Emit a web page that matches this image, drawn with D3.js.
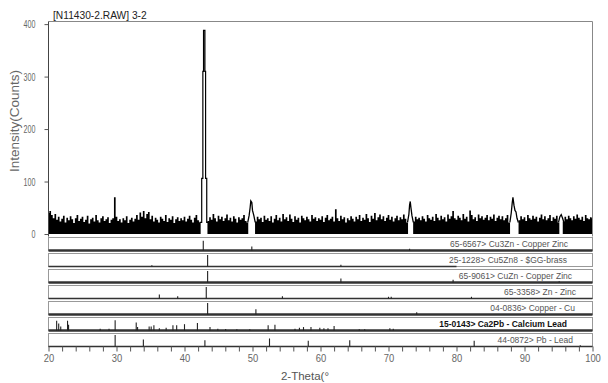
<!DOCTYPE html>
<html>
<head>
<meta charset="utf-8">
<script src="https://cdn.jsdelivr.net/npm/d3@7"></script>
<style>
  body { margin: 0; background: #fff; }
  text { font-family: "Liberation Sans", Arial, sans-serif; }
</style>
</head>
<body>
<svg id="chart" width="608" height="383"></svg>
<script>
// ---- data ----
const scanTitle = '[N11430-2.RAW] 3-2';
const scanStart = 20, scanStep = 0.25;
// top of the noisy background per 0.25 deg column (counts), 20.00 .. 100.00
const noise = [
  40, 44, 36, 30, 38, 27, 33, 24, 29, 35, 22, 31, 26, 34, 28, 21, 30, 36, 25, 29,
  33, 23, 27, 35, 20, 28, 31, 24, 36, 26, 22, 30, 34, 25, 28, 32, 21, 27, 30, 70,
  33, 25, 28, 22, 30, 26, 34, 21, 27, 31, 24, 29, 36, 27, 41, 33, 44, 30, 38, 42,
  28, 35, 24, 31, 27, 22, 33, 29, 25, 36, 23, 30, 27, 34, 21, 28, 32, 25, 30, 26,
  33, 24, 29, 35, 27, 22, 31, 36, 26, 22, 0, 0, 0, 0, 25, 32, 27, 38, 30, 24,
  35, 28, 33, 25, 30, 37, 26, 31, 24, 34, 29, 22, 32, 27, 30, 36, 25, 22, 0, 0,
  0, 0, 24, 33, 28, 31, 23, 35, 27, 30, 25, 34, 22, 29, 36, 26, 31, 24, 38, 28,
  32, 25, 37, 29, 23, 34, 27, 31, 22, 35, 30, 26, 33, 28, 24, 36, 29, 32, 25, 30,
  27, 34, 23, 31, 36, 26, 29, 33, 24, 47, 30, 25, 35, 28, 32, 22, 30, 26, 34, 29,
  24, 33, 28, 36, 25, 31, 27, 38, 30, 23, 35, 29, 40, 26, 32, 37, 28, 34, 25, 31,
  36, 27, 33, 24, 30, 35, 26, 32, 28, 37, 29, 22, 0, 0, 0, 24, 33, 28, 31, 26,
  34, 29, 24, 36, 30, 27, 33, 25, 38, 31, 26, 35, 28, 32, 24, 37, 29, 34, 44, 30,
  27, 35, 31, 26, 38, 29, 33, 24, 45, 36, 28, 32, 25, 37, 30, 34, 27, 31, 36, 26,
  33, 29, 37, 25, 31, 35, 28, 34, 26, 30, 36, 22, 0, 0, 0, 0, 0, 26, 34, 28,
  32, 25, 36, 30, 27, 35, 29, 33, 24, 31, 37, 28, 34, 26, 30, 36, 25, 32, 29, 35,
  22, 0, 0, 24, 33, 28, 35, 30, 26, 34, 29, 37, 31, 27, 33, 25, 36, 30, 28, 32,
  30
];
// reflections [2theta, counts]
const peak43 = [[42.2, 22], [42.53, 106], [42.7, 310], [42.8, 388], [43.0, 310], [43.1, 106], [43.27, 22], [43.5, 22]];
const peak50 = [[49.3, 22], [49.5, 35], [49.65, 50], [49.75, 63], [49.9, 60], [50.0, 45], [50.2, 35], [50.4, 22]];
const peak73 = [[72.8, 22], [73.0, 38], [73.1, 55], [73.2, 62], [73.3, 50], [73.45, 35], [73.65, 22]];
const peak88 = [[87.85, 22], [88.05, 40], [88.2, 60], [88.3, 70], [88.45, 55], [88.6, 45], [88.75, 42], [88.9, 30], [89.1, 22]];
const peak95 = [[95.0, 22], [95.2, 33], [95.4, 37], [95.6, 30], [95.8, 22]];

const yTicks = [0, 100, 200, 300, 400];
const xTicks = [20, 30, 40, 50, 60, 70, 80, 90, 100];

// reference cards
const cardNames = [
  '65-6567> Cu3Zn - Copper Zinc',
  '25-1228> Cu5Zn8 - $GG-brass',
  '65-9061> CuZn - Copper Zinc',
  '65-3358> Zn - Zinc',
  '04-0836> Copper - Cu',
  '15-0143> Ca2Pb - Calcium Lead',
  '44-0872> Pb - Lead'
];
const cardEnd = [100, 80, 100, 100, 100, 100, 100];
const stCu3Zn = [[42.76, 0.85], [49.9, 0.35], [73.1, 0.15]];
const stCu5Zn8 = [[35.2, 0.1], [43.4, 1.0], [63.0, 0.15]];
const stCuZn = [[43.4, 1.0], [63.0, 0.35], [79.5, 0.25], [95.1, 0.1]];
const stZn = [[36.3, 0.35], [39.0, 0.2], [43.2, 1.0], [54.4, 0.2], [70.0, 0.15], [70.4, 0.15], [82.2, 0.15]];
const stCu = [[43.4, 1.0], [50.5, 0.45], [74.15, 0.2]];
const stCa2Pb = [
  [21.2, 0.85], [21.5, 0.6], [21.8, 0.35], [22.8, 0.85], [22.95, 0.5], [27.6, 0.15], [28.9, 0.15],
  [29.8, 0.9], [32.9, 0.7], [33.1, 0.3], [34.8, 0.35], [35.1, 0.35], [35.5, 0.45], [36.3, 0.2],
  [37.3, 0.25], [38.3, 0.45], [38.85, 0.45], [40.0, 0.55], [41.9, 0.65], [43.75, 0.3], [44.9, 0.15],
  [46.05, 0.12], [47.7, 0.1], [49.6, 0.1], [52.3, 0.45], [53.3, 0.5], [56.25, 0.15], [56.9, 0.25],
  [57.5, 0.3], [58.6, 0.3], [59.9, 0.25], [60.5, 0.2], [61.1, 0.2], [62.0, 0.4], [65.7, 0.1],
  [66.5, 0.1], [70.2, 0.2], [70.7, 0.15]
];
const stPb = [[29.8, 1.0], [33.95, 0.6], [43.0, 0.55], [52.5, 0.7], [58.2, 0.5], [64.3, 0.55], [82.6, 0.5], [98.2, 0.1]];
const cardSticks = [stCu3Zn, stCu5Zn8, stCuZn, stZn, stCu, stCa2Pb, stPb];

// ---- layout ----
const svg = d3.select('#chart');
const x = d3.scaleLinear().domain([20, 100]).range([48.5, 592.5]);
const y = d3.scaleLinear().domain([0, 405]).range([234, 21.5]);
const plotTop = 21.5, plotBot = 236.5;
const panelTop = 237.5, panelPitch = 16, panelH = 13;
const baseW = [2.6, 1.6, 2.6, 1.3, 2.6, 2.6, 1.5];
const labelEnd = [568, 567, 572, 576, 575, 567, 573];

svg.append('clipPath').attr('id', 'clip')
  .append('rect').attr('x', x(20)).attr('y', plotTop).attr('width', x(100) - x(20)).attr('height', plotBot - plotTop);

const plot = svg.append('g').attr('clip-path', 'url(#clip)');

// noisy background, drawn as one solid stepped area
const noiseArea = d3.area()
  .x((d, i) => x(scanStart + i * scanStep))
  .y0(y(0))
  .y1(d => y(d))
  .curve(d3.curveStep);
plot.append('path').datum(noise)
  .attr('d', noiseArea)
  .attr('fill', '#000');

// reflections
const stepLine = d3.line().x(d => x(d[0])).y(d => y(d[1])).curve(d3.curveStepAfter);
const peakLine = d3.line().x(d => x(d[0])).y(d => y(d[1]));
plot.append('path').attr('d', stepLine(peak43))
  .attr('fill', 'none').attr('stroke', '#000').attr('stroke-width', 1.2);
[peak50, peak73, peak88, peak95].forEach(p => {
  plot.append('path').attr('d', peakLine(p))
    .attr('fill', 'none').attr('stroke', '#000').attr('stroke-width', 1.3);
});

// frame
svg.append('path')
  .attr('d', `M${x(20)},${plotTop}H${x(100)}V${plotBot}`)
  .attr('fill', 'none').attr('stroke', '#888');

const yAxis = svg.append('g')
  .attr('transform', `translate(${x(20)},0)`)
  .call(d3.axisLeft(y).tickValues(yTicks).tickSize(4).tickSizeOuter(0));
yAxis.select('.domain').attr('d', `M0,${plotTop}V${plotBot}`).attr('stroke', '#444');
yAxis.selectAll('line').attr('stroke', '#555');
yAxis.selectAll('text')
  .attr('x', 0)
  .attr('transform', 'translate(-13,0) scale(0.62,1)')
  .attr('font-size', 11.5).attr('fill', '#666');

// title and labels
svg.append('text').text(scanTitle)
  .attr('transform', 'translate(53,19) scale(0.93,1)')
  .attr('font-size', 11).attr('fill', '#222');

svg.append('text').text('Intensity(Counts)')
  .attr('transform', 'translate(19,121) rotate(-90)')
  .attr('text-anchor', 'middle')
  .attr('font-size', 13.5).attr('fill', '#666');

svg.append('text').text('2-Theta(°')
  .attr('x', 305).attr('y', 380)
  .attr('text-anchor', 'middle')
  .attr('font-size', 11.5).attr('fill', '#555');

// reference card panels
cardNames.forEach((name, i) => {
  const top = panelTop + i * panelPitch;
  const g = svg.append('g');
  g.append('rect')
    .attr('x', x(20)).attr('y', top)
    .attr('width', x(100) - x(20)).attr('height', panelH)
    .attr('fill', 'none').attr('stroke', '#999');
  g.append('line')
    .attr('x1', x(20)).attr('x2', x(cardEnd[i]))
    .attr('y1', top + panelH).attr('y2', top + panelH)
    .attr('stroke', '#333').attr('stroke-width', baseW[i]);
  g.selectAll('.stick')
    .data(cardSticks[i])
    .join('line')
    .attr('x1', d => x(d[0])).attr('x2', d => x(d[0]))
    .attr('y1', top + panelH).attr('y2', d => top + panelH - d[1] * (panelH - 1.5))
    .attr('stroke', '#222').attr('stroke-width', 1.1);
  g.append('text').text(name)
    .attr('x', labelEnd[i]).attr('y', top + 9.5)
    .attr('text-anchor', 'end')
    .attr('font-size', 8.5)
    .attr('font-weight', i === 5 ? 'bold' : 'normal')
    .attr('fill', i === 5 ? '#111' : '#555');
});

// 2-theta axis
const xAxis = svg.append('g')
  .attr('transform', `translate(0,${panelTop + 6 * panelPitch + panelH})`)
  .call(d3.axisBottom(x).tickValues(d3.range(20, 101, 2)).tickSize(5).tickPadding(2)
    .tickFormat(d => xTicks.includes(d) ? d : ''));
xAxis.select('.domain').remove();
xAxis.selectAll('line').attr('stroke', '#555');
xAxis.selectAll('text')
  .attr('transform', 'scale(0.82,1)')
  .attr('font-size', 11.5).attr('fill', '#666');
</script>
</body>
</html>
